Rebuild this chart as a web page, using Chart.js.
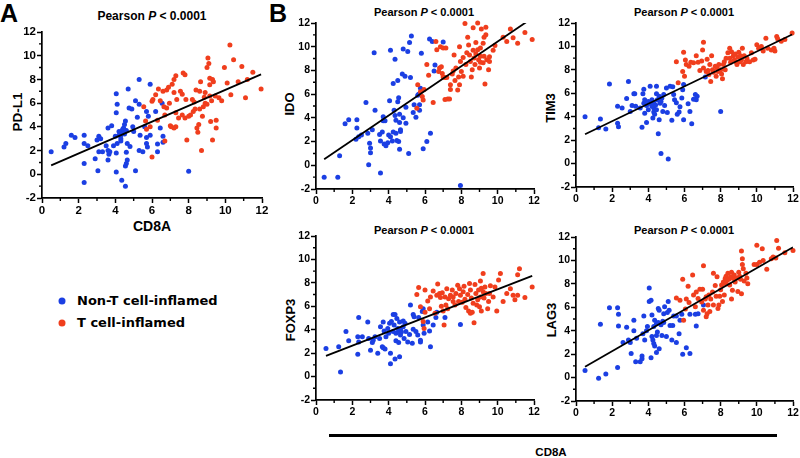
<!DOCTYPE html>
<html>
<head>
<meta charset="utf-8">
<script src="https://cdn.jsdelivr.net/npm/chart.js@4.4.1/dist/chart.umd.min.js"></script>
<style>
  body { margin: 0; width: 800px; height: 458px; overflow: hidden; background: #fff; position: relative;
         font-family: "Liberation Sans", Arial, sans-serif; }
  canvas { position: absolute; }
  .txt { position: absolute; transform: translate(-50%, -50%); white-space: nowrap; font-weight: bold;
         line-height: 1; color: #000; }
  .rot { transform: translate(-50%, -50%) rotate(-90deg); }
  .legend { position: absolute; left: 77px; font-family: "DejaVu Sans", sans-serif; font-weight: bold;
            font-size: 13px; line-height: 1; transform: translateY(-50%); }
  .dot { position: absolute; width: 7px; height: 7px; border-radius: 50%; transform: translate(-50%, -50%); }
</style>
</head>
<body>
<div class="txt" style="left:0;top:1px;transform:none;font-size:25px">A</div>
<div class="txt" style="left:269px;top:1px;transform:none;font-size:25px">B</div>

<div class="txt" style="left:152px;top:16px;font-size:12px">Pearson <i>P</i> &lt; 0.0001</div>
<div class="txt" style="left:424px;top:12px;font-size:11px">Pearson <i>P</i> &lt; 0.0001</div>
<div class="txt" style="left:684px;top:12px;font-size:11px">Pearson <i>P</i> &lt; 0.0001</div>
<div class="txt" style="left:424px;top:230px;font-size:11px">Pearson <i>P</i> &lt; 0.0001</div>
<div class="txt" style="left:684px;top:230px;font-size:11px">Pearson <i>P</i> &lt; 0.0001</div>

<div class="txt rot" style="left:18px;top:112px;font-size:13.5px">PD-L1</div>
<div class="txt" style="left:152px;top:226px;font-size:14px">CD8A</div>
<div class="txt rot" style="left:289px;top:104px;font-size:13px">IDO</div>
<div class="txt rot" style="left:550px;top:108px;font-size:13px">TIM3</div>
<div class="txt rot" style="left:290px;top:320px;font-size:13px">FOXP3</div>
<div class="txt rot" style="left:551px;top:320px;font-size:13px">LAG3</div>

<div style="position:absolute;left:329px;top:434px;width:448px;height:2.5px;background:#000"></div>
<div class="txt" style="left:551px;top:453px;font-size:11.5px">CD8A</div>

<div class="dot" id="dotNon" style="left:62px;top:301px"></div>
<div class="legend" style="top:300px">Non-T cell-inflamed</div>
<div class="dot" id="dotInf" style="left:62px;top:323px"></div>
<div class="legend" style="top:322px">T cell-inflamed</div>

<canvas id="cA"></canvas>
<canvas id="cIDO"></canvas>
<canvas id="cTIM3"></canvas>
<canvas id="cFOXP3"></canvas>
<canvas id="cLAG3"></canvas>

<script>
// CD8A vs gene expression, [x, y] pairs
const pdl1Non = [[0.5,1.9],[1.2,2.3],[1.3,2.6],[1.6,3.3],[1.8,3.1],[2.3,3.3],[2.3,2.6],[2.5,2.4],[2.3,0.9],[2.3,-0.7],[2.9,1.3],[3.0,2.9],[3.1,3.2],[3.2,3.0],[3.1,1.9],[3.3,1.9],[3.05,0.3],[3.6,2.0],[3.5,2.4],[3.6,3.9],[3.8,4.1],[3.6,1.2],[3.65,1.7],[3.7,1.9],[3.9,2.4],[4.1,2.6],[4.0,3.2],[4.05,5.2],[4.05,6.8],[4.1,5.9],[4.05,1.8],[4.05,0.2],[4.3,2.8],[4.3,3.3],[4.35,3.6],[4.4,3.5],[4.45,3.9],[4.5,4.2],[4.55,4.5],[4.3,3.0],[4.35,-0.5],[4.55,-1.0],[4.55,0.7],[4.6,0.9],[4.65,1.2],[4.6,1.85],[4.65,2.6],[4.7,7.2],[4.75,5.6],[4.9,5.5],[4.8,2.35],[4.95,4.0],[5.0,3.6],[5.1,6.2],[5.1,0.3],[5.2,4.8],[5.3,8.0],[5.3,5.9],[5.3,2.0],[5.35,3.3],[5.5,1.9],[5.6,4.0],[5.7,5.3],[5.7,3.1],[5.7,2.6],[5.75,2.3],[5.8,4.9],[5.9,3.3],[5.9,7.6],[6.2,5.3],[6.3,2.55],[6.3,1.9],[6.45,3.9],[6.6,3.2],[6.6,2.7],[6.55,6.0],[8.0,0.25],[4.4,3.8],[4.5,3.4],[4.2,3.3],[4.6,3.7],[4.2,3.6]];
const pdl1Inf = [[5.55,5.7],[5.65,4.5],[5.7,3.8],[5.9,4.0],[6.0,1.45],[6.0,6.15],[6.05,6.3],[6.2,6.7],[6.3,4.55],[6.35,7.2],[6.45,6.2],[6.6,7.0],[6.65,5.7],[6.7,2.8],[6.7,5.0],[6.8,5.6],[6.8,7.1],[6.9,7.35],[6.95,6.0],[7.0,4.1],[7.05,4.0],[7.1,7.6],[7.2,6.9],[7.2,8.0],[7.3,8.3],[7.2,3.9],[7.3,4.0],[7.3,5.2],[7.35,6.3],[7.45,4.75],[7.55,7.0],[7.65,5.0],[7.65,6.75],[7.7,8.55],[7.8,8.4],[7.8,4.75],[7.85,6.3],[7.9,2.9],[8.0,4.9],[8.1,5.0],[8.2,6.3],[8.25,5.3],[8.35,5.5],[8.4,7.1],[8.45,3.9],[8.5,3.55],[8.55,4.2],[8.6,7.0],[8.65,7.8],[8.7,2.0],[8.75,4.9],[8.8,5.7],[8.85,6.5],[8.9,6.0],[9.0,9.0],[9.05,9.8],[9.1,9.35],[9.15,8.1],[9.15,7.55],[9.15,6.6],[9.2,4.45],[9.25,6.2],[9.3,2.9],[9.3,8.0],[9.35,7.8],[9.45,6.6],[9.5,4.55],[9.5,3.9],[9.65,6.45],[9.8,6.2],[9.95,9.0],[10.1,7.7],[10.25,10.9],[10.3,6.7],[10.45,9.65],[10.7,7.8],[10.9,9.1],[11.1,6.45],[11.2,8.0],[11.5,8.6],[11.95,7.2],[8.6,5.5],[9.0,5.9],[8.9,6.9],[8.3,6.1]];

const idoNon = [[0.45,-1.0],[1.2,-1.0],[1.3,0.8],[1.6,3.5],[1.8,3.85],[2.25,3.85],[2.25,3.15],[2.2,2.2],[2.35,2.4],[2.5,2.55],[2.75,5.3],[2.85,2.7],[2.95,1.85],[3.0,1.45],[3.0,1.05],[2.9,0.05],[3.2,9.5],[3.25,4.65],[3.1,3.0],[3.55,-0.65],[3.55,2.05],[3.5,2.6],[3.65,2.8],[3.7,3.75],[3.7,4.1],[3.8,3.75],[3.75,1.8],[3.85,1.65],[3.95,1.9],[4.0,2.55],[4.05,5.45],[4.1,9.7],[4.1,2.4],[4.2,2.05],[4.25,6.9],[4.25,2.8],[4.3,4.65],[4.35,8.95],[4.35,4.2],[4.4,3.8],[4.4,2.7],[4.45,2.1],[4.5,5.35],[4.55,5.7],[4.5,7.15],[4.55,2.0],[4.6,1.35],[4.6,4.3],[4.6,3.6],[4.65,2.85],[4.65,3.0],[4.75,7.7],[4.8,9.8],[4.8,4.0],[4.9,7.5],[4.95,4.9],[4.95,3.55],[5.05,9.6],[5.1,1.0],[5.15,10.35],[5.25,10.9],[5.2,7.4],[5.35,4.45],[5.4,5.1],[5.5,4.05],[5.6,5.9],[5.65,6.0],[5.7,5.1],[5.75,6.5],[5.8,9.45],[5.7,4.65],[5.9,1.4],[6.1,2.0],[6.3,2.7],[6.25,10.65],[6.4,10.45],[6.55,8.45],[6.5,7.95],[7.0,10.4],[7.95,-1.7]];
const idoInf = [[5.55,4.8],[5.6,6.8],[5.75,6.2],[5.85,5.8],[5.9,5.5],[5.95,6.4],[6.1,8.5],[6.2,7.6],[6.45,5.3],[6.6,10.45],[6.65,9.75],[6.75,7.9],[6.8,8.2],[6.85,10.0],[6.9,8.3],[6.95,7.75],[7.0,7.45],[7.0,9.9],[7.1,7.4],[7.1,5.55],[7.15,9.9],[7.2,7.4],[7.25,5.6],[7.35,5.6],[7.4,6.4],[7.4,6.8],[7.5,7.7],[7.55,7.95],[7.6,9.3],[7.65,7.15],[7.7,8.2],[7.8,6.35],[7.85,7.45],[7.9,10.0],[7.9,6.8],[7.95,8.75],[8.0,7.9],[8.1,7.5],[8.1,9.1],[8.2,11.95],[8.25,8.5],[8.3,9.5],[8.35,10.8],[8.4,10.15],[8.45,9.3],[8.5,8.75],[8.55,7.45],[8.6,8.05],[8.65,11.6],[8.65,9.7],[8.7,9.05],[8.75,8.5],[8.8,9.4],[8.9,12.0],[8.9,9.75],[8.95,8.9],[9.0,8.2],[9.05,9.2],[9.05,8.7],[9.1,11.5],[9.2,10.3],[9.2,8.65],[9.25,10.8],[9.25,9.2],[9.3,6.85],[9.35,11.65],[9.35,11.0],[9.4,8.9],[9.5,8.05],[9.55,9.15],[9.55,8.75],[9.75,9.7],[9.85,10.1],[10.3,10.8],[10.5,10.45],[10.7,11.5],[10.85,10.75],[11.1,10.3],[11.5,11.2],[11.9,10.6],[9.05,9.9],[8.8,10.35]];

const tim3Non = [[0.5,4.0],[1.25,3.05],[1.35,3.8],[1.65,2.95],[1.85,6.8],[2.3,4.9],[2.3,3.45],[2.35,3.15],[2.55,4.75],[2.8,5.55],[2.9,7.0],[3.0,4.45],[3.1,4.95],[3.2,5.95],[3.25,5.95],[3.3,4.9],[3.55,4.75],[3.65,3.1],[3.7,5.95],[3.75,6.35],[3.75,5.15],[3.8,4.3],[3.8,5.45],[3.9,3.5],[3.9,4.95],[4.0,4.6],[4.0,5.3],[4.1,6.6],[4.15,5.1],[4.2,5.45],[4.25,3.9],[4.3,4.75],[4.3,4.4],[4.35,4.2],[4.45,4.6],[4.45,6.6],[4.45,5.95],[4.5,5.45],[4.55,2.55],[4.6,3.75],[4.6,5.75],[4.65,5.15],[4.7,0.85],[4.75,5.6],[4.8,4.45],[4.85,5.9],[4.9,4.95],[5.0,6.45],[5.05,4.35],[5.1,0.4],[5.2,6.6],[5.3,3.7],[5.35,6.55],[5.4,5.9],[5.45,5.45],[5.55,5.2],[5.6,4.2],[5.7,4.4],[5.75,4.85],[5.85,5.6],[5.9,6.3],[5.95,3.75],[5.95,6.75],[6.2,5.1],[6.3,4.45],[6.4,3.4],[6.5,5.5],[6.6,5.9],[6.65,5.45],[6.7,5.75],[7.15,7.4],[8.0,4.45],[4.3,5.2],[4.6,5.4],[4.4,5.0],[4.7,5.3],[4.2,4.9]];
const tim3Inf = [[5.55,8.7],[5.65,6.9],[5.9,7.85],[5.95,9.5],[6.0,7.45],[6.05,8.85],[6.1,8.45],[6.25,8.3],[6.35,8.65],[6.5,8.6],[6.65,9.2],[6.75,8.65],[6.85,7.95],[6.95,8.75],[7.0,9.7],[7.05,10.35],[7.05,8.15],[7.2,7.85],[7.25,8.9],[7.3,7.95],[7.35,7.6],[7.4,8.45],[7.45,7.0],[7.5,9.2],[7.55,8.0],[7.6,7.8],[7.7,8.3],[7.75,7.45],[7.8,8.15],[7.85,7.85],[7.9,8.45],[8.0,8.0],[8.05,7.65],[8.1,7.25],[8.15,8.45],[8.2,8.7],[8.25,8.0],[8.3,9.0],[8.4,9.45],[8.5,9.85],[8.5,9.0],[8.55,8.65],[8.6,9.55],[8.7,9.2],[8.75,8.85],[8.8,9.35],[8.85,8.7],[8.9,8.45],[8.95,9.1],[9.0,9.5],[9.05,8.7],[9.1,9.2],[9.15,8.85],[9.2,9.85],[9.25,8.45],[9.3,9.2],[9.4,8.7],[9.45,9.0],[9.6,8.7],[9.7,9.45],[9.8,8.85],[9.9,8.9],[10.0,10.15],[10.1,9.85],[10.25,10.0],[10.35,9.6],[10.5,10.7],[10.6,9.85],[10.8,9.7],[11.0,9.6],[11.1,10.85],[11.15,10.65],[11.35,10.45],[11.55,10.6],[11.95,11.15],[10.95,9.85]];

const foxp3Non = [[0.55,2.4],[1.25,2.55],[1.35,0.4],[1.65,3.85],[1.8,3.05],[2.35,5.05],[2.3,3.4],[2.35,2.95],[2.3,1.9],[2.55,3.4],[2.85,4.65],[2.9,3.25],[3.0,2.25],[3.1,2.9],[3.15,3.1],[3.25,3.4],[3.4,2.0],[3.5,3.25],[3.55,4.25],[3.65,2.55],[3.7,4.65],[3.7,2.45],[3.75,3.9],[3.8,2.35],[3.85,3.4],[3.95,4.1],[4.0,3.7],[4.05,4.55],[4.1,1.1],[4.1,2.0],[4.15,4.7],[4.25,5.3],[4.25,3.85],[4.3,4.4],[4.35,1.5],[4.35,5.3],[4.4,3.7],[4.4,3.05],[4.45,4.95],[4.5,4.1],[4.55,3.85],[4.55,2.9],[4.6,4.65],[4.6,1.7],[4.65,3.55],[4.65,4.0],[4.7,3.8],[4.8,4.25],[4.8,4.75],[4.85,3.25],[4.9,4.55],[4.95,3.85],[5.05,2.95],[5.15,3.6],[5.2,6.1],[5.3,2.85],[5.35,4.05],[5.35,5.3],[5.4,5.1],[5.5,3.85],[5.6,3.55],[5.65,5.05],[5.75,3.1],[5.75,2.95],[5.85,5.55],[5.9,4.4],[5.9,5.8],[5.95,3.7],[6.15,4.65],[6.25,3.9],[6.3,2.55],[6.45,4.4],[6.6,5.05],[6.65,5.5],[7.1,5.05],[7.95,4.45]];
const foxp3Inf = [[5.55,7.0],[5.65,7.6],[5.75,5.95],[5.9,4.7],[5.95,4.1],[6.0,5.5],[6.0,7.4],[6.15,6.45],[6.25,5.8],[6.3,6.8],[6.45,7.3],[6.55,5.4],[6.65,6.95],[6.7,7.9],[6.8,7.1],[6.85,6.75],[6.9,6.0],[6.95,7.15],[7.0,5.6],[7.05,4.4],[7.1,6.8],[7.15,6.1],[7.2,7.5],[7.25,5.8],[7.3,6.65],[7.4,6.95],[7.5,7.4],[7.55,6.4],[7.55,6.8],[7.65,6.1],[7.7,7.1],[7.8,7.8],[7.85,6.4],[7.9,7.5],[7.95,6.95],[8.05,6.35],[8.1,7.25],[8.15,7.7],[8.2,6.6],[8.25,5.9],[8.35,7.0],[8.4,5.6],[8.45,7.95],[8.5,5.4],[8.5,7.4],[8.55,6.7],[8.6,5.5],[8.65,6.25],[8.7,4.6],[8.75,7.85],[8.8,7.1],[8.85,6.1],[8.9,6.55],[8.95,7.4],[9.0,5.95],[9.05,8.15],[9.05,6.8],[9.1,7.55],[9.1,5.6],[9.2,7.25],[9.2,8.8],[9.25,6.7],[9.3,7.65],[9.35,7.1],[9.45,5.8],[9.5,6.4],[9.55,7.1],[9.6,7.75],[9.75,6.8],[9.85,7.65],[9.95,5.6],[10.05,8.25],[10.15,8.8],[10.3,6.4],[10.5,7.1],[10.7,7.5],[10.85,6.95],[10.95,6.55],[11.1,8.7],[11.2,9.2],[11.1,6.95],[11.5,6.75],[11.9,7.65]];

const lag3Non = [[0.5,0.6],[1.25,-0.05],[1.35,4.55],[1.65,0.3],[1.85,5.95],[2.3,5.95],[2.35,5.4],[2.35,4.4],[2.3,0.85],[2.6,3.0],[2.8,4.3],[2.9,3.2],[3.0,3.0],[3.05,2.05],[3.2,4.0],[3.2,4.9],[3.3,1.35],[3.35,3.35],[3.55,1.35],[3.65,1.85],[3.65,1.6],[3.7,3.75],[3.75,5.25],[3.8,3.2],[3.9,4.0],[3.95,4.35],[4.05,7.65],[4.05,6.5],[4.15,6.6],[4.15,1.7],[4.2,5.35],[4.2,3.5],[4.25,3.2],[4.3,4.35],[4.3,2.9],[4.35,2.7],[4.35,4.9],[4.45,3.6],[4.45,2.15],[4.45,4.6],[4.5,3.9],[4.55,5.9],[4.55,4.7],[4.6,5.75],[4.6,2.45],[4.7,4.5],[4.75,3.6],[4.8,4.8],[4.85,4.7],[4.85,5.45],[4.9,6.05],[5.0,3.5],[5.05,5.55],[5.1,6.5],[5.15,5.75],[5.2,4.45],[5.3,3.2],[5.35,4.45],[5.4,5.25],[5.55,3.0],[5.55,5.25],[5.7,3.75],[5.75,4.9],[5.85,5.4],[5.9,2.0],[6.1,2.55],[6.3,2.05],[6.3,5.4],[6.6,5.4],[6.65,4.4],[6.75,5.45],[7.05,6.2]];
const lag3Inf = [[5.55,6.8],[5.75,6.6],[5.9,8.4],[5.95,4.9],[6.05,5.85],[6.1,6.7],[6.2,7.8],[6.25,6.4],[6.45,8.75],[6.5,7.05],[6.6,6.05],[6.65,7.3],[6.75,6.75],[6.85,7.55],[6.95,6.45],[7.0,7.55],[7.05,9.55],[7.05,5.75],[7.15,6.7],[7.2,5.2],[7.2,6.9],[7.25,5.45],[7.3,6.2],[7.35,7.05],[7.4,5.65],[7.45,6.7],[7.55,7.3],[7.6,8.9],[7.6,6.2],[7.7,7.85],[7.75,6.95],[7.8,8.6],[7.85,5.9],[7.9,6.2],[7.95,6.95],[8.0,7.5],[8.05,7.9],[8.1,6.5],[8.15,8.15],[8.2,7.05],[8.25,8.45],[8.3,8.0],[8.3,8.65],[8.35,8.3],[8.4,8.9],[8.45,8.4],[8.5,7.9],[8.55,8.6],[8.6,6.7],[8.6,9.0],[8.65,7.45],[8.7,8.45],[8.75,8.75],[8.8,8.15],[8.9,8.5],[8.95,7.35],[9.0,9.0],[9.05,8.65],[9.1,8.4],[9.15,10.8],[9.15,7.15],[9.2,10.15],[9.2,9.65],[9.25,9.3],[9.3,8.25],[9.4,8.9],[9.45,8.5],[9.5,8.0],[9.85,9.65],[10.0,11.3],[10.0,9.65],[10.15,9.85],[10.3,11.0],[10.35,10.0],[10.55,9.25],[10.8,10.15],[10.9,10.3],[11.05,10.2],[11.1,11.7],[11.2,11.05],[11.55,10.65],[12.0,10.85]];

const xTicks = [0, 2, 4, 6, 8, 10, 12];
const yTicks = [-2, 0, 2, 4, 6, 8, 10, 12];

const BLUE = '#1b3fe3';
const RED = '#f03e1d';
document.getElementById('dotNon').style.background = BLUE;
document.getElementById('dotInf').style.background = RED;

Chart.defaults.font.family = '"Liberation Sans", Arial, sans-serif';
Chart.defaults.font.weight = 'bold';
Chart.defaults.color = '#000';

// least squares line over all points
function fitLine(a, b) {
  const pts = a.concat(b);
  const n = pts.length;
  let sx = 0, sy = 0, sxx = 0, sxy = 0;
  pts.forEach(([x, y]) => { sx += x; sy += y; sxx += x * x; sxy += x * y; });
  const slope = (n * sxy - sx * sy) / (n * sxx - sx * sx);
  const icpt = (sy - slope * sx) / n;
  const xs = pts.map(p => p[0]);
  const x0 = Math.min(...xs), x1 = Math.max(...xs);
  return [{x: x0, y: icpt + slope * x0}, {x: x1, y: icpt + slope * x1}];
}

// GraphPad style minor ticks at odd values
const minorTicks = {
  id: 'minorTicks',
  afterDraw(chart) {
    const {ctx, scales: {x, y}} = chart;
    ctx.save();
    ctx.strokeStyle = '#000';
    ctx.lineWidth = 1.4;
    ctx.beginPath();
    for (let v = x.min + 1; v < x.max; v += 2) {
      const px = x.getPixelForValue(v);
      ctx.moveTo(px, x.top); ctx.lineTo(px, x.top + 3);
    }
    for (let v = y.min + 1; v < y.max; v += 2) {
      const py = y.getPixelForValue(v);
      ctx.moveTo(y.right, py); ctx.lineTo(y.right - 3, py);
    }
    ctx.stroke();
    ctx.restore();
  }
};

function makePanel(id, box, non, inf, tickSize) {
  const padT = 8, padR = 10, yW = 40, xH = 24;
  const cv = document.getElementById(id);
  cv.width = box.r - box.l + yW + padR;
  cv.height = box.b - box.t + padT + xH;
  cv.style.left = (box.l - yW) + 'px';
  cv.style.top = (box.t - padT) + 'px';

  const axis = (vals, fit) => ({
    type: 'linear',
    min: vals[0],
    max: vals[vals.length - 1],
    afterFit: fit,
    afterBuildTicks: s => { s.ticks = vals.map(v => ({value: v})); },
    border: {display: true, color: '#000', width: 1.7},
    grid: {drawOnChartArea: false, drawTicks: true, tickLength: 5, tickColor: '#000', tickWidth: 1.5},
    ticks: {autoSkip: false, maxRotation: 0, padding: 1, color: '#000', font: {size: tickSize, weight: 'bold'}}
  });

  new Chart(cv, {
    type: 'scatter',
    data: {
      datasets: [
        {data: fitLine(non, inf), showLine: true, borderColor: '#000', borderWidth: 1.8, pointRadius: 0, order: 0},
        {data: inf.map(([x, y]) => ({x, y})), backgroundColor: RED, pointRadius: 2.5, borderWidth: 0, clip: false, order: 1},
        {data: non.map(([x, y]) => ({x, y})), backgroundColor: BLUE, pointRadius: 2.5, borderWidth: 0, clip: false, order: 2}
      ]
    },
    options: {
      responsive: false,
      animation: false,
      layout: {padding: {top: padT, right: padR, left: 0, bottom: 0}},
      plugins: {legend: {display: false}, tooltip: {enabled: false}},
      scales: {
        x: axis(xTicks, s => { s.height = xH; }),
        y: axis(yTicks, s => { s.width = yW; })
      }
    },
    plugins: [minorTicks]
  });
}

makePanel('cA', {l: 42, r: 262, t: 32, b: 198}, pdl1Non, pdl1Inf, 11.5);
makePanel('cIDO', {l: 316, r: 534, t: 23, b: 189}, idoNon, idoInf, 10.5);
makePanel('cTIM3', {l: 576, r: 793, t: 23, b: 187}, tim3Non, tim3Inf, 10.5);
makePanel('cFOXP3', {l: 316, r: 534, t: 236, b: 400}, foxp3Non, foxp3Inf, 10.5);
makePanel('cLAG3', {l: 576, r: 793, t: 237, b: 401}, lag3Non, lag3Inf, 10.5);
</script>
</body>
</html>
